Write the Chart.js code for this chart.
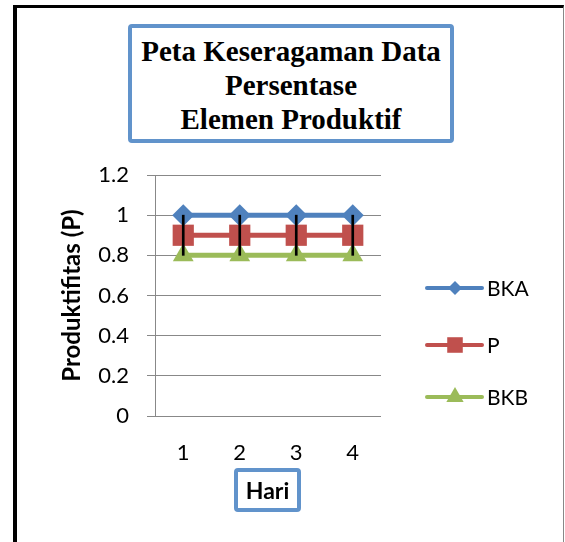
<!DOCTYPE html>
<html>
<head>
<meta charset="utf-8">
<script src="https://cdn.jsdelivr.net/npm/chart.js@4.4.1/dist/chart.umd.min.js"></script>
<style>
  html, body { margin: 0; padding: 0; background: #fff; }
  #wrap { position: relative; width: 565px; height: 542px; overflow: hidden; }
  #frame {
    position: absolute; left: 13px; top: 5px; width: 551px; height: 600px;
    box-sizing: border-box; border-left: 4px solid #000; border-top: 3px solid #000;
    border-right: 1px solid #888;
  }
  #chartTitle {
    position: absolute; left: 128px; top: 24px; width: 326px; height: 119px;
    box-sizing: border-box; border: 4px solid #6193cb; border-radius: 4px;
    font: bold 29px "Liberation Serif", serif; line-height: 34px; text-align: center;
    padding-top: 6px; color: #000; background: #fff;
  }
  #xTitle {
    position: absolute; left: 234px; top: 468px; width: 67px; height: 44px;
    box-sizing: border-box; border: 4px solid #6193cb; border-radius: 4px;
    font: bold 23px Lato, sans-serif; display: flex; align-items: center; justify-content: center;
    color: #000;
  }
  canvas { position: absolute; left: 0; top: 0; }
</style>
</head>
<body>
<div id="wrap">
  <div id="frame"></div>
  <canvas id="petaChart" width="565" height="542"></canvas>
  <div id="chartTitle">Peta Keseragaman Data<br>Persentase<br>Elemen Produktif</div>
  <div id="xTitle">Hari</div>
</div>
<script>
const hari = ['1', '2', '3', '4'];
const bka = [1, 1, 1, 1];
const pVal = [0.9, 0.9, 0.9, 0.9];
const bkb = [0.8, 0.8, 0.8, 0.8];
const yTickLabels = ['0', '0.2', '0.4', '0.6', '0.8', '1', '1.2'];
const seriesNames = ['BKA', 'P', 'BKB'];

const blue = '#4f81bd';
const red = '#c0504d';
const green = '#9bbb59';

// legend drawn by hand: line + marker + text, like the excel one
const excelLegend = {
    id: 'excelLegend',
    afterDraw(chart) {
        const c = chart.ctx;
        const left = chart.chartArea.right + 46;
        const rows = [
            { y: 288, color: blue, style: 'rectRot', r: 7 },
            { y: 345, color: red, style: 'rect', r: 11 },
            { y: 397, color: green, style: 'triangle', r: 10 }
        ];
        c.save();
        rows.forEach((row, i) => {
            c.strokeStyle = row.color;
            c.lineWidth = 4;
            c.lineCap = 'round';
            c.beginPath();
            c.moveTo(left, row.y);
            c.lineTo(left + 55, row.y);
            c.stroke();
            c.fillStyle = row.color;
            Chart.helpers.drawPoint(c, { pointStyle: row.style, radius: row.r, borderWidth: 0 }, left + 28, row.y);
            c.fillStyle = '#000';
            c.font = '21px Lato';
            c.textBaseline = 'middle';
            c.fillText(seriesNames[i], left + 60, row.y + 1);
        });
        c.restore();
    }
};

const ctx = document.getElementById('petaChart').getContext('2d');

const chart = new Chart(ctx, {
    type: 'line',
    data: {
        labels: hari,
        datasets: [
            {
                // high-low lines between BKA and BKB
                type: 'bar',
                label: 'hilo',
                data: bka.map((v, i) => [bkb[i], v]),
                backgroundColor: '#000',
                barThickness: 2,
                order: 0
            },
            {
                label: seriesNames[0],
                data: bka,
                borderColor: blue,
                backgroundColor: blue,
                borderWidth: 5,
                pointStyle: 'rectRot',
                pointRadius: 11,
                pointBorderWidth: 0,
                order: 1
            },
            {
                label: seriesNames[1],
                data: pVal,
                borderColor: red,
                backgroundColor: red,
                borderWidth: 5,
                pointStyle: 'rect',
                pointRadius: 15,
                pointBorderWidth: 0,
                order: 2
            },
            {
                label: seriesNames[2],
                data: bkb,
                borderColor: green,
                backgroundColor: green,
                borderWidth: 5,
                pointStyle: 'triangle',
                pointRadius: 12,
                pointBorderWidth: 0,
                order: 3
            }
        ]
    },
    options: {
        responsive: false,
        animation: false,
        layout: {
            padding: { left: 58, top: 175, right: 184, bottom: 66 }
        },
        scales: {
            x: {
                offset: true,
                grid: { display: false },
                border: { display: false },
                ticks: {
                    color: '#000',
                    font: { family: 'Lato', size: 22 },
                    padding: 16,
                    maxRotation: 0
                },
                afterFit: function (scale) { scale.height = 60; }
            },
            y: {
                min: 0,
                max: 1.2,
                grid: { color: '#888', tickLength: 8 },
                border: { color: '#888' },
                ticks: {
                    stepSize: 0.2,
                    color: '#000',
                    font: { family: 'Lato', size: 22 },
                    padding: 18,
                    callback: function (v, i) { return yTickLabels[i]; }
                },
                title: {
                    display: true,
                    text: 'Produktifitas (P)',
                    color: '#000',
                    font: { family: 'Lato', size: 24, weight: 'bold' },
                    padding: { top: 0, bottom: 0 }
                },
                afterFit: function (scale) { scale.width = 97; }
            }
        },
        plugins: {
            legend: { display: false },
            tooltip: { enabled: false }
        }
    },
    plugins: [excelLegend]
});
</script>
</body>
</html>
